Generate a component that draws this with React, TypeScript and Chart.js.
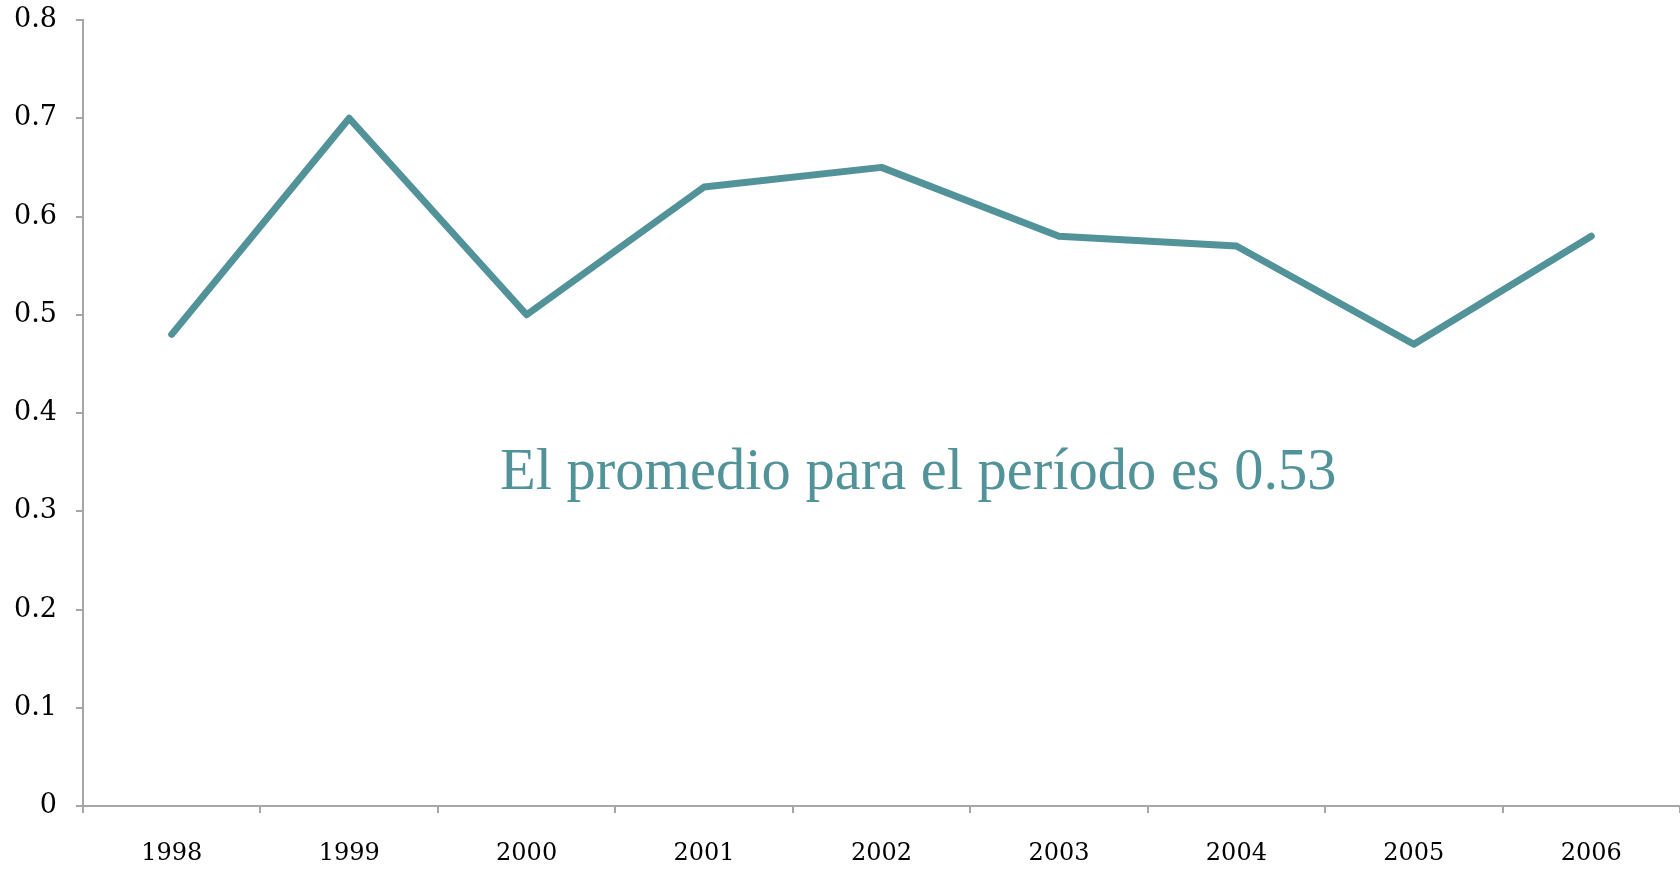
import React, { useEffect, useRef } from "react";
import { Chart, registerables } from "chart.js";

Chart.register(...registerables);

const years = ["1998", "1999", "2000", "2001", "2002", "2003", "2004", "2005", "2006"];
const values = [0.48, 0.7, 0.5, 0.63, 0.65, 0.58, 0.57, 0.47, 0.58];
const annotation = "El promedio para el período es 0.53";

const TEAL = "#52939a";
const AXIS = "#a6a6a6";
const FONT = "'DejaVu Serif', Georgia, serif";

export default function App() {
  const ref = useRef<HTMLCanvasElement>(null);
  useEffect(() => {
    const canvas = ref.current!;
    const chart = new Chart(canvas, {
      type: "line",
      data: {
        labels: years,
        datasets: [
          {
            data: values,
            borderColor: TEAL,
            borderWidth: 7,
            pointRadius: 0,
            borderCapStyle: "round",
            borderJoinStyle: "round",
            tension: 0,
          },
        ],
      },
      options: {
        animation: false,
        responsive: false,
        maintainAspectRatio: false,
        layout: { padding: { top: 20, right: 0, left: 0, bottom: 0 } },
        plugins: { legend: { display: false }, tooltip: { enabled: false } },
        scales: {
          x: {
            offset: true,
            grid: { offset: true, drawOnChartArea: false, tickLength: 7, color: AXIS, lineWidth: 2 },
            border: { color: AXIS, width: 2 },
            ticks: { color: "#000", font: { family: FONT, size: 24 }, padding: 26, maxRotation: 0 },
            afterFit: (s: any) => {
              s.height = 64;
              s.paddingLeft = 0;
              s.paddingRight = 0;
            },
          },
          y: {
            min: 0,
            max: 0.8,
            grid: { drawOnChartArea: false, tickLength: 7, color: AXIS, lineWidth: 2 },
            border: { color: AXIS, width: 2 },
            ticks: { stepSize: 0.1, color: "#000", font: { family: FONT, size: 27 }, padding: 19 },
            afterFit: (s: any) => {
              s.width = 83;
              s.paddingTop = 0;
              s.paddingBottom = 0;
            },
          },
        },
      },
    });
    return () => chart.destroy();
  }, []);
  return (
    <div style={{ position: "absolute", left: 0, top: 0, width: 1680, height: 870 }}>
      <canvas ref={ref} width={1680} height={870} style={{ display: "block" }} />
      <div
        style={{
          position: "absolute",
          left: 500,
          top: 440,
          fontFamily: "'Liberation Serif', Georgia, serif",
          fontSize: 58.5,
          color: TEAL,
          whiteSpace: "nowrap",
          lineHeight: "60px",
        }}
      >
        {annotation}
      </div>
    </div>
  );
}
